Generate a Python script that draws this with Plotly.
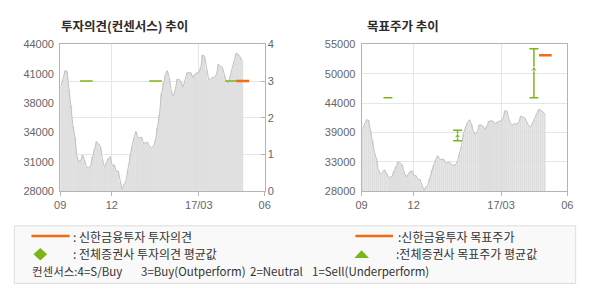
import plotly.graph_objects as go

W, H = 590, 300

# ---------------- data ----------------
price = [39500, 40200, 41150, 41050, 39150, 37400, 35080, 33920, 31830, 31200,
         31380, 31940, 31380, 30610, 30540, 30790, 31730, 32500, 33400, 33190,
         32880, 31490, 30610, 31100, 31590, 31760, 30790, 30890, 30200, 30200,
         29050, 28170, 28800, 29150, 30440, 31940, 32880, 33820, 34520, 33860,
         33820, 33890, 33120, 33330, 33330, 32850, 32780, 32880, 33580, 34970,
         36370, 38630, 39850, 40650, 41140, 40370, 38980, 38350, 38980, 40200,
         40200, 39920, 39330, 40030, 40900, 40930, 40900, 40370, 40720, 40900,
         40900, 41420, 42850, 42700, 41250, 40200, 40200, 40440, 40370, 40720,
         41840, 41630, 41490, 40720, 40030, 39750, 40500, 41300, 42200, 43050,
         42950, 42650, 42300]
x_idx = list(range(len(price)))

date_tick_pos = [-0.5, 25.8, 70.0, 103.5]
date_tick_text = ['09', '12', '17/03', '06']

left_price_ticks = [28000, 31200, 34400, 37600, 40800, 44000]
left_price_ticktext = ['28000', '31000', '34000', '38000', '41000', '44000']
opinion_ticks = [0, 1, 2, 3, 4]
right_price_ticks = [28000, 33400, 38800, 44200, 49600, 55000]
right_price_ticktext = ['28000', '33000', '39000', '44000', '50000', '55000']

consensus_x = [12.8, 48.0, 86.6]
consensus_opinion = [3, 3, 3]
consensus_target_mean = [45200, 38100, 50400]
consensus_target_low = [45200, 37300, 45200]
consensus_target_high = [45200, 39200, 54200]

shinhan_x = [92.4]
shinhan_opinion = [3]
shinhan_target = [53000]

# ---------------- styles ----------------
GREEN = '#7cb518'
ORANGE = '#f26b0f'
BAR = '#dedede'
LINE = '#c2c2c2'
AXIS = '#b4b4b4'
GRID = '#e6e6e6'
TICKFONT = dict(family='Liberation Sans, Arial', size=11, color='#666666')
KFONT = 'Noto Sans CJK KR'


def px(x):
    return x / W


def py(y):
    return 1 - y / H


fig = go.Figure()

# left chart: price bars + line
fig.add_trace(go.Bar(x=x_idx, y=price, xaxis='x', yaxis='y',
                     marker=dict(color=BAR, line=dict(width=0)), hoverinfo='skip'))
fig.add_trace(go.Scatter(x=x_idx, y=price, xaxis='x', yaxis='y', mode='lines',
                         line=dict(color=LINE, width=1), hoverinfo='skip'))
fig.add_trace(go.Scatter(x=consensus_x, y=consensus_opinion, xaxis='x', yaxis='y2',
                         mode='markers',
                         marker=dict(symbol='line-ew', size=9,
                                     line=dict(width=1.5, color=GREEN))))
fig.add_trace(go.Scatter(x=shinhan_x, y=shinhan_opinion, xaxis='x', yaxis='y2',
                         mode='markers',
                         marker=dict(symbol='line-ew', size=9,
                                     line=dict(width=2.5, color=ORANGE))))

# right chart
fig.add_trace(go.Bar(x=x_idx, y=price, xaxis='x2', yaxis='y3',
                     marker=dict(color=BAR, line=dict(width=0)), hoverinfo='skip'))
fig.add_trace(go.Scatter(x=x_idx, y=price, xaxis='x2', yaxis='y3', mode='lines',
                         line=dict(color=LINE, width=1), hoverinfo='skip'))
err_plus = [h - m for h, m in zip(consensus_target_high, consensus_target_mean)]
err_minus = [m - l for m, l in zip(consensus_target_mean, consensus_target_low)]
msize = [6 if (a + b) > 0 else 0 for a, b in zip(err_plus, err_minus)]
fig.add_trace(go.Scatter(x=consensus_x, y=consensus_target_mean, xaxis='x2', yaxis='y3',
                         mode='markers',
                         marker=dict(symbol='triangle-up', size=msize, color=GREEN),
                         error_y=dict(type='data', symmetric=False, array=err_plus,
                                      arrayminus=err_minus, color=GREEN,
                                      thickness=1.5, width=4.5)))
fig.add_trace(go.Scatter(x=shinhan_x, y=shinhan_target, xaxis='x2', yaxis='y3',
                         mode='markers',
                         marker=dict(symbol='line-ew', size=9,
                                     line=dict(width=2.5, color=ORANGE))))

xcommon = dict(range=[-0.5, 103.5], tickmode='array', tickvals=date_tick_pos,
               ticktext=date_tick_text, showgrid=True, gridcolor=GRID, gridwidth=1,
               showline=True, linecolor=AXIS, linewidth=1, mirror=True,
               ticks='outside', ticklen=4, tickcolor=AXIS, tickfont=TICKFONT,
               zeroline=False, fixedrange=True)

fig.update_layout(
    width=W, height=H, autosize=False,
    margin=dict(l=0, r=0, t=0, b=0),
    paper_bgcolor='white', plot_bgcolor='white',
    showlegend=False, bargap=0.3,
    xaxis=dict(domain=[px(55.3), px(264)], anchor='y', **xcommon),
    yaxis=dict(domain=[py(193), py(40)], anchor='x', range=[28000, 44000],
               tickmode='array', tickvals=left_price_ticks, ticktext=left_price_ticktext,
               showgrid=False, showline=True, linecolor=AXIS, mirror=True,
               ticks='outside', ticklen=3, tickcolor='rgba(0,0,0,0)',
               tickfont=TICKFONT, zeroline=False),
    yaxis2=dict(overlaying='y', anchor='x', side='right', range=[0, 4],
                tickmode='array', tickvals=opinion_ticks,
                showgrid=True, gridcolor=GRID, showline=True, linecolor=AXIS,
                ticks='inside', ticklen=4, tickcolor=AXIS, tickfont=TICKFONT,
                zeroline=False),
    xaxis2=dict(domain=[px(363), px(573)], anchor='y3', **xcommon),
    yaxis3=dict(domain=[py(193), py(40)], anchor='x2', range=[28000, 55000],
                tickmode='array', tickvals=right_price_ticks, ticktext=right_price_ticktext,
                showgrid=True, gridcolor=GRID, showline=True, linecolor=AXIS, mirror=True,
                ticks='outside', ticklen=3, tickcolor='rgba(0,0,0,0)',
                tickfont=TICKFONT, zeroline=False),
)

annotations = []


def txt(x, y, s, size=12, color='#333333', bold=False):
    annotations.append(dict(
        x=px(x), y=py(y), xref='paper', yref='paper', xanchor='left', yanchor='middle',
        text=('<b>%s</b>' % s) if bold else s, showarrow=False,
        font=dict(family=KFONT, size=size, color=color)))


# titles
txt(54, 20.5, '투자의견(컨센서스) 추이', size=12.5, color='#2b2b2b', bold=True)
txt(366, 20.5, '목표주가 추이', size=12.5, color='#2b2b2b', bold=True)

# legend texts
txt(66.5, 240, ': 신한금융투자 투자의견')
txt(66.5, 257.5, ': 전체증권사 투자의견 평균값')
txt(398.5, 240, ':신한금융투자 목표주가')
txt(396, 257.5, ':전체증권사 목표주가 평균값')
txt(25, 276, '컨센서스:4=S/Buy', size=11.5)
txt(136, 276, '3=Buy(Outperform)', size=11.5)
txt(247, 276, '2=Neutral', size=11.5)
txt(310, 276, '1=Sell(Underperform)', size=11.5)
fig.update_layout(annotations=annotations)

shapes = [
    dict(type='rect', xref='paper', yref='paper', x0=px(8.5), x1=px(581.5),
         y0=py(289), y1=py(229), fillcolor='#f9f9f9', line=dict(color='#dcdcdc', width=1),
         layer='below'),
    dict(type='line', xref='paper', yref='paper', x0=px(26), x1=px(65),
         y0=py(239.7), y1=py(239.7), line=dict(color=ORANGE, width=2.5)),
    dict(type='line', xref='paper', yref='paper', x0=px(356.7), x1=px(395),
         y0=py(239.7), y1=py(239.7), line=dict(color=ORANGE, width=2.5)),
    dict(type='path', xref='paper', yref='paper',
         path='M %f,%f L %f,%f L %f,%f L %f,%f Z' % (
             px(35), py(252), px(42), py(258.5), px(35), py(265), px(28), py(258.5)),
         fillcolor=GREEN, line=dict(width=0)),
    dict(type='path', xref='paper', yref='paper',
         path='M %f,%f L %f,%f L %f,%f Z' % (
             px(363), py(254.5), px(370.5), py(262.5), px(355.5), py(262.5)),
         fillcolor=GREEN, line=dict(width=0)),
]
fig.update_layout(shapes=shapes)

fig.write_html('out.html')
